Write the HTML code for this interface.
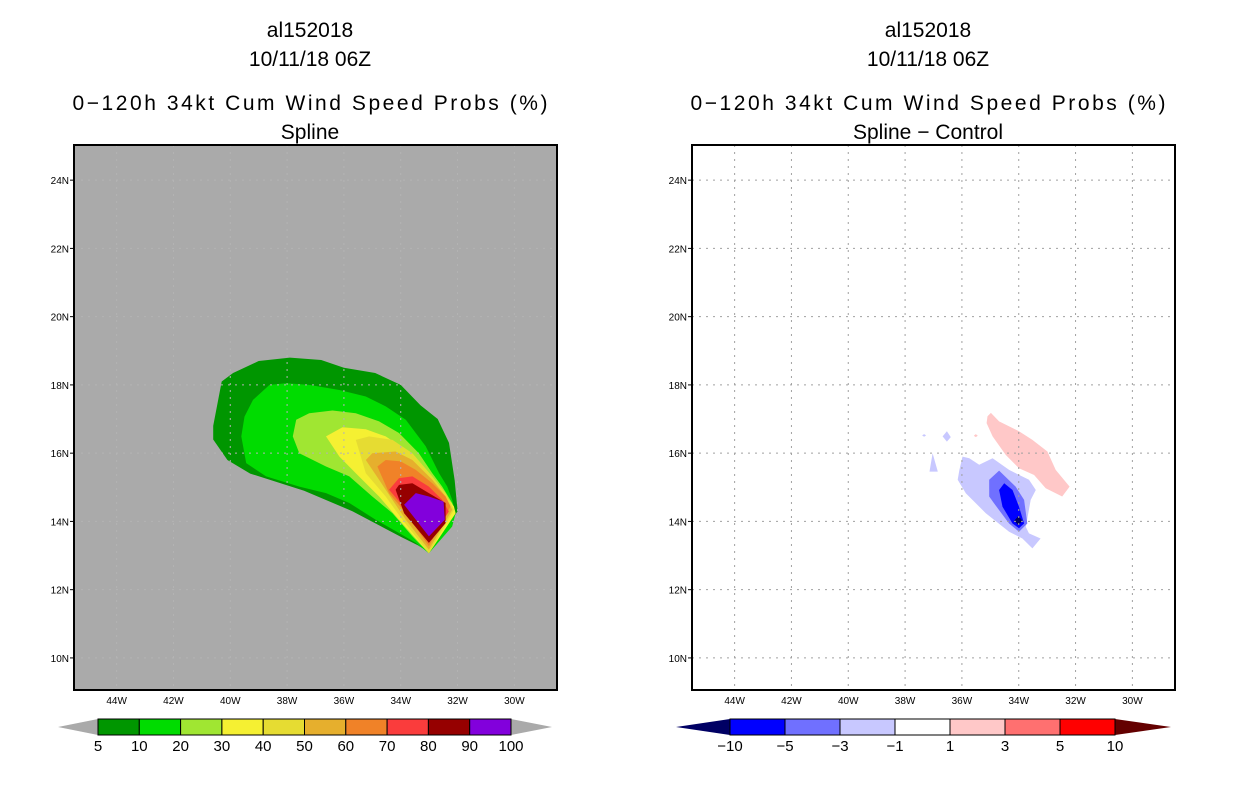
<!DOCTYPE html>
<html><head><meta charset="utf-8"><style>
html,body{margin:0;padding:0;background:#fff;}
svg{display:block;font-family:"Liberation Sans",sans-serif;}
</style></head><body>
<svg id="fig" width="1236" height="800" viewBox="0 0 1236 800" xmlns="http://www.w3.org/2000/svg">
<g id="left"></g>
<g id="right"></g>
</svg>
<script>
const lonTicks=[44,42,40,38,36,34,32,30];
const latTicks=[24,22,20,18,16,14,12,10];
const probLevels=["5","10","20","30","40","50","60","70","80","90","100"];
const probColors=["#009600","#00dc00","#a0e632","#f5f032","#e6dc32","#e6af2d","#f08228","#fa3c3c","#960000","#8200dc"];
const diffLevels=["-10","-5","-3","-1","1","3","5","10"];
const diffColors=["#0000ff","#7070ff","#c8c8ff","#ffffff","#ffc8c8","#ff7070","#ff0000"];
// contour polygons in [lonW, latN]
const prob5=[[40.6,16.8],[40.3,18.1],[39.9,18.35],[39.0,18.7],[37.9,18.8],[36.8,18.73],[36.0,18.5],[34.9,18.35],[34.0,18.0],[33.3,17.4],[32.7,17.0],[32.3,16.3],[32.1,15.2],[32.0,14.3],[33.0,13.1],[33.4,13.3],[34.0,13.55],[35.7,14.3],[37.4,14.9],[39.3,15.4],[40.1,15.8],[40.6,16.4]];
const prob10=[[39.61,16.49],[39.5,17.07],[39.2,17.56],[38.62,18.0],[38.04,18.05],[37.22,18.0],[36.16,17.85],[35.23,17.66],[34.53,17.37],[33.82,16.98],[33.12,16.2],[32.65,15.41],[32.36,15.02],[32.19,14.63],[32.07,14.24],[32.19,13.85],[33.01,13.07],[33.47,13.37],[34.06,13.66],[34.88,14.05],[35.81,14.54],[36.63,14.83],[37.57,15.02],[38.74,15.32],[39.44,15.71]];
const prob20=[[37.8,16.49],[37.68,16.98],[37.22,17.17],[36.4,17.25],[35.58,17.17],[34.76,16.93],[34.06,16.59],[33.36,16.0],[32.89,15.41],[32.54,15.02],[32.19,14.54],[32.07,14.24],[33.01,13.07],[33.59,13.56],[34.29,14.24],[35.0,14.73],[35.81,15.32],[36.63,15.61],[37.57,16.0]];
const prob30=[[36.63,16.49],[36.05,16.76],[35.23,16.7],[34.53,16.49],[33.82,16.1],[33.12,15.51],[32.65,15.02],[32.13,14.44],[32.07,14.24],[33.01,13.07],[34.06,14.05],[34.76,14.73],[35.58,15.41],[36.16,15.9]];
const prob40=[[35.58,16.39],[35.11,16.49],[34.29,16.39],[33.59,16.0],[32.89,15.32],[32.42,14.83],[32.13,14.34],[33.01,13.07],[33.94,14.05],[34.53,14.73],[35.23,15.41]];
const prob50=[[35.23,15.8],[35.0,16.0],[34.18,16.05],[33.59,15.8],[32.89,15.22],[32.42,14.73],[32.19,14.34],[33.01,13.17],[33.82,14.05],[34.53,14.93]];
const prob60=[[34.82,15.61],[34.53,15.8],[34.0,15.76],[33.47,15.51],[32.89,15.12],[32.42,14.73],[32.25,14.44],[33.01,13.27],[33.82,14.24],[34.41,14.83]];
const prob70=[[34.41,14.93],[34.06,15.27],[33.59,15.32],[33.01,15.02],[32.54,14.63],[32.31,14.29],[33.01,13.37],[33.71,14.24]];
const prob80=[[34.18,14.93],[34.06,15.07],[33.59,15.12],[33.01,14.83],[32.42,14.54],[32.42,13.95],[33.01,13.37],[33.88,14.24]];
const prob90=[[33.88,14.49],[33.47,14.83],[33.01,14.73],[32.49,14.58],[32.45,14.05],[33.01,13.56]];
const probPolys=[prob5,prob10,prob20,prob30,prob40,prob50,prob60,prob70,prob80,prob90];
const negLight=[[36.09,15.51],[35.98,15.9],[35.74,15.85],[35.39,15.66],[34.92,15.85],[34.34,15.51],[33.64,15.22],[33.4,14.92],[33.58,14.63],[33.75,13.84],[33.64,13.65],[33.23,13.5],[33.52,13.21],[33.87,13.5],[34.34,13.7],[35.16,14.24],[35.86,14.82],[36.15,15.22]];
const negLight2=[[37.03,16.0],[37.14,15.46],[36.85,15.46]];
const negLight3=[[36.68,16.49],[36.53,16.64],[36.39,16.47],[36.53,16.34]];
const negLight4=[[37.4,16.52],[37.33,16.56],[37.26,16.52],[37.33,16.48]];
const negMid=[[35.04,15.22],[34.69,15.49],[34.11,15.02],[33.81,14.63],[33.7,13.94],[33.99,13.7],[34.34,13.94],[34.87,14.53],[35.04,14.73]];
const negStrong=[[34.69,14.92],[34.51,15.12],[34.22,14.92],[33.99,14.43],[33.81,13.94],[33.99,13.8],[34.22,13.94],[34.57,14.43]];
const negDeep=[[34.16,14.02],[34.01,14.16],[33.87,14.02],[34.01,13.89]];
const posLight=[[35.1,17.08],[34.98,17.18],[34.69,16.93],[33.99,16.64],[33.52,16.39],[32.99,16.05],[32.7,15.51],[32.21,15.02],[32.47,14.73],[33.05,14.97],[33.46,15.36],[33.99,15.56],[34.46,15.95],[34.92,16.49],[35.13,16.88]];
const posLight2=[[35.58,16.51],[35.51,16.56],[35.44,16.51],[35.51,16.47]];
const diffPolys=[[negLight,"#c8c8ff"],[negLight2,"#c8c8ff"],[negLight3,"#c8c8ff"],[negLight4,"#c8c8ff"],[negMid,"#7070ff"],[negStrong,"#0000ff"],[negDeep,"#000064"],[posLight,"#ffc8c8"],[posLight2,"#ffc8c8"]];

const NS="http://www.w3.org/2000/svg";
function mk(tag,attrs,parent){const e=document.createElementNS(NS,tag);for(const k in attrs)e.setAttribute(k,attrs[k]);parent.appendChild(e);return e;}
const X0=74,X1=557,Y0=145,Y1=690,LONW=45.5,LONE=28.5,LATS=9.06,LATN=25.03;
function xs(lon,off){return off+X0+(LONW-lon)/(LONW-LONE)*(X1-X0);}
function ys(lat){return Y0+(LATN-lat)/(LATN-LATS)*(Y1-Y0);}
function pts(poly,off){return poly.map(p=>xs(p[0],off).toFixed(1)+","+ys(p[1]).toFixed(1)).join(" ");}

function panel(g,off,bg,titleLast,gridColor){
  const cx=off+310;
  const titles=[["al152018",30,null],["10/11/18 06Z",59,null],["0\u2212120h 34kt Cum Wind Speed Probs (%)",103,475],[titleLast,132,null]];
  titles.forEach((t,i)=>{const e=mk("text",{x:cx,y:t[1]+7,"text-anchor":"middle","font-size":"21",fill:"#000"},g);
    if(t[2])e.setAttribute("textLength",t[2]);
    
    
    e.textContent=t[0];});
  const r=mk("rect",{x:off+X0,y:Y0,width:X1-X0,height:Y1-Y0,fill:bg},g);
  
  
  return cx;
}
function frameAndAxes(g,off,gridColor){
  lonTicks.forEach(l=>{const x=xs(l,off);
    const gl=mk("line",{x1:x,x2:x,y1:Y0,y2:Y1,stroke:gridColor,"stroke-width":1,"stroke-dasharray":"2,5"},g);
    
    
    const t=mk("text",{x:x,y:Y1+14,"text-anchor":"middle","font-size":"10",fill:"#000"},g);
    
    
    t.textContent=l+"W";});
  latTicks.forEach(l=>{const y=ys(l);
    const gl=mk("line",{x1:off+X0,x2:off+X1,y1:y,y2:y,stroke:gridColor,"stroke-width":1,"stroke-dasharray":"2,5"},g);
    
    
    mk("line",{x1:off+X0-4,x2:off+X0,y1:y,y2:y,stroke:"#000"},g);
    const t=mk("text",{x:off+X0-5,y:y+4,"text-anchor":"end","font-size":"10",fill:"#000"},g);
    
    
    t.textContent=l+"N";});
  const f=mk("rect",{x:off+X0,y:Y0,width:X1-X0,height:Y1-Y0,fill:"none",stroke:"#000","stroke-width":2},g);
  
  
}
function colorbar(g,x0,x1,tl,tr,colors,labels,leftCol,rightCol,name){
  const y0=719,y1=735,n=colors.length,w=(x1-x0)/n;
  const a=mk("polygon",{points:`${tl},727 ${x0},${y0} ${x0},${y1}`,fill:leftCol},g);
  
  
  const b=mk("polygon",{points:`${tr},727 ${x1},${y0} ${x1},${y1}`,fill:rightCol},g);
  
  
  colors.forEach((c,i)=>{const r=mk("rect",{x:x0+i*w,y:y0,width:w,height:y1-y0,fill:c,stroke:"#000","stroke-width":1},g);
    
    });
  labels.forEach((l,i)=>{const t=mk("text",{x:x0+i*w,y:751,"text-anchor":"middle","font-size":"15",fill:"#000"},g);
    
    
    t.textContent=l.replace("-","\u2212");});
}
const L=document.getElementById("left"),R=document.getElementById("right");
panel(L,0,"#aaaaaa","Spline");
probPolys.forEach((p,i)=>{const e=mk("polygon",{points:pts(p,0),fill:probColors[i]},L);
  
  });
frameAndAxes(L,0,"#b4b4b4");
colorbar(L,98,511,58,552,probColors,probLevels,"#aaaaaa","#aaaaaa","prob-colorbar");

panel(R,618,"#ffffff","Spline \u2212 Control");
diffPolys.forEach(d=>{const e=mk("polygon",{points:pts(d[0],618),fill:d[1]},R);
  
  });
frameAndAxes(R,618,"#a0a0a0");
colorbar(R,730,1115,676,1171,diffColors,diffLevels,"#000064","#640000","diff-colorbar");
</script>
</body></html>
